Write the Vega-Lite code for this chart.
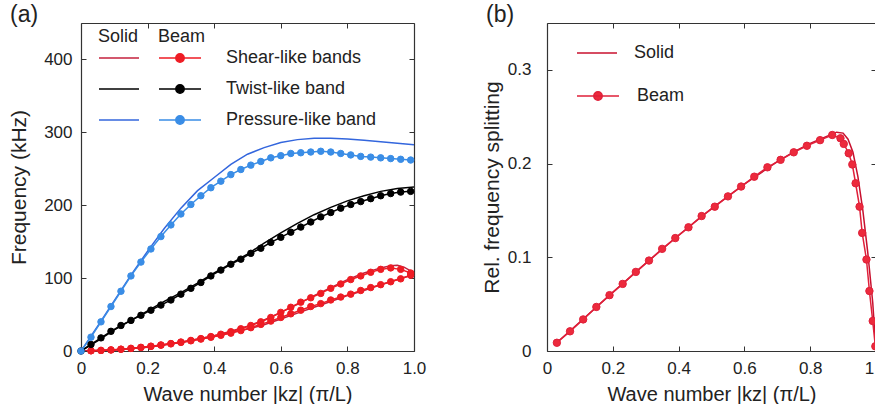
{
  "$schema": "https://vega.github.io/schema/vega-lite/v6.json",
  "autosize": {"type": "pad"},
  "padding": {"left": 8, "top": 3, "right": 0, "bottom": 0},
  "background": "white",
  "config": {
    "font": "Liberation Sans",
    "view": {"stroke": null},
    "axis": {"domainColor": "#333", "domainWidth": 1.2, "tickColor": "#333", "tickWidth": 1, "tickSize": -5, "labelFontSize": 17, "labelColor": "#222", "titleFontSize": 20, "titleFontWeight": "normal", "titleColor": "#222", "grid": false, "labelFlush": false, "labelOverlap": false},
    "legend": {"padding": 0, "labelFontSize": 18, "titleFontSize": 18, "titleFontWeight": "normal", "labelColor": "#222", "titleColor": "#222", "clipHeight": 16, "rowPadding": 13, "symbolStrokeWidth": 1.5, "titlePadding": 4},
    "title": {"fontSize": 23, "fontWeight": "normal", "anchor": "start", "frame": "group", "color": "#222"}
  },
  "datasets": {
    "aSolid": [
      {"k":0,"f":0,"band":"Shear-like bands","br":"s1"},{"k":0.1,"f":1.5,"band":"Shear-like bands","br":"s1"},{"k":0.2,"f":5.5,"band":"Shear-like bands","br":"s1"},{"k":0.3,"f":12,"band":"Shear-like bands","br":"s1"},{"k":0.4,"f":21,"band":"Shear-like bands","br":"s1"},{"k":0.45,"f":27,"band":"Shear-like bands","br":"s1"},{"k":0.5,"f":34,"band":"Shear-like bands","br":"s1"},{"k":0.55,"f":42.5,"band":"Shear-like bands","br":"s1"},{"k":0.6,"f":53,"band":"Shear-like bands","br":"s1"},{"k":0.65,"f":64,"band":"Shear-like bands","br":"s1"},{"k":0.7,"f":76,"band":"Shear-like bands","br":"s1"},{"k":0.75,"f":87,"band":"Shear-like bands","br":"s1"},{"k":0.8,"f":98,"band":"Shear-like bands","br":"s1"},{"k":0.85,"f":107,"band":"Shear-like bands","br":"s1"},{"k":0.9,"f":114,"band":"Shear-like bands","br":"s1"},{"k":0.93,"f":117,"band":"Shear-like bands","br":"s1"},{"k":0.95,"f":117.5,"band":"Shear-like bands","br":"s1"},{"k":0.97,"f":115,"band":"Shear-like bands","br":"s1"},{"k":0.99,"f":110,"band":"Shear-like bands","br":"s1"},{"k":1.0,"f":108,"band":"Shear-like bands","br":"s1"},
      {"k":0,"f":0,"band":"Shear-like bands","br":"s2"},{"k":0.1,"f":1.4,"band":"Shear-like bands","br":"s2"},{"k":0.2,"f":5.2,"band":"Shear-like bands","br":"s2"},{"k":0.3,"f":11.5,"band":"Shear-like bands","br":"s2"},{"k":0.4,"f":20,"band":"Shear-like bands","br":"s2"},{"k":0.45,"f":25,"band":"Shear-like bands","br":"s2"},{"k":0.5,"f":30,"band":"Shear-like bands","br":"s2"},{"k":0.55,"f":36,"band":"Shear-like bands","br":"s2"},{"k":0.6,"f":44,"band":"Shear-like bands","br":"s2"},{"k":0.65,"f":52,"band":"Shear-like bands","br":"s2"},{"k":0.7,"f":60,"band":"Shear-like bands","br":"s2"},{"k":0.75,"f":68,"band":"Shear-like bands","br":"s2"},{"k":0.8,"f":76,"band":"Shear-like bands","br":"s2"},{"k":0.85,"f":83,"band":"Shear-like bands","br":"s2"},{"k":0.9,"f":91,"band":"Shear-like bands","br":"s2"},{"k":0.95,"f":98,"band":"Shear-like bands","br":"s2"},{"k":1.0,"f":105,"band":"Shear-like bands","br":"s2"},
      {"k":0,"f":0,"band":"Twist-like band","br":"t"},{"k":0.05,"f":14,"band":"Twist-like band","br":"t"},{"k":0.1,"f":29,"band":"Twist-like band","br":"t"},{"k":0.15,"f":42,"band":"Twist-like band","br":"t"},{"k":0.2,"f":55,"band":"Twist-like band","br":"t"},{"k":0.25,"f":68,"band":"Twist-like band","br":"t"},{"k":0.3,"f":80,"band":"Twist-like band","br":"t"},{"k":0.35,"f":93,"band":"Twist-like band","br":"t"},{"k":0.4,"f":107,"band":"Twist-like band","br":"t"},{"k":0.45,"f":120,"band":"Twist-like band","br":"t"},{"k":0.5,"f":133,"band":"Twist-like band","br":"t"},{"k":0.55,"f":148,"band":"Twist-like band","br":"t"},{"k":0.6,"f":162,"band":"Twist-like band","br":"t"},{"k":0.65,"f":175,"band":"Twist-like band","br":"t"},{"k":0.7,"f":187,"band":"Twist-like band","br":"t"},{"k":0.75,"f":197,"band":"Twist-like band","br":"t"},{"k":0.8,"f":206,"band":"Twist-like band","br":"t"},{"k":0.85,"f":213,"band":"Twist-like band","br":"t"},{"k":0.9,"f":219,"band":"Twist-like band","br":"t"},{"k":0.95,"f":223,"band":"Twist-like band","br":"t"},{"k":1.0,"f":225,"band":"Twist-like band","br":"t"},
      {"k":0,"f":0,"band":"Pressure-like band","br":"p"},{"k":0.05,"f":34,"band":"Pressure-like band","br":"p"},{"k":0.1,"f":69,"band":"Pressure-like band","br":"p"},{"k":0.15,"f":104,"band":"Pressure-like band","br":"p"},{"k":0.2,"f":137,"band":"Pressure-like band","br":"p"},{"k":0.25,"f":168,"band":"Pressure-like band","br":"p"},{"k":0.3,"f":196,"band":"Pressure-like band","br":"p"},{"k":0.35,"f":220,"band":"Pressure-like band","br":"p"},{"k":0.4,"f":238,"band":"Pressure-like band","br":"p"},{"k":0.45,"f":256,"band":"Pressure-like band","br":"p"},{"k":0.5,"f":270,"band":"Pressure-like band","br":"p"},{"k":0.55,"f":279,"band":"Pressure-like band","br":"p"},{"k":0.6,"f":286,"band":"Pressure-like band","br":"p"},{"k":0.65,"f":290,"band":"Pressure-like band","br":"p"},{"k":0.7,"f":292,"band":"Pressure-like band","br":"p"},{"k":0.75,"f":292,"band":"Pressure-like band","br":"p"},{"k":0.8,"f":291,"band":"Pressure-like band","br":"p"},{"k":0.85,"f":289,"band":"Pressure-like band","br":"p"},{"k":0.9,"f":287,"band":"Pressure-like band","br":"p"},{"k":0.95,"f":285,"band":"Pressure-like band","br":"p"},{"k":1.0,"f":283,"band":"Pressure-like band","br":"p"}
    ],
    "aBeam": [
      {"k":0.03,"f":0.3,"band":"Shear-like bands","br":"s1"},{"k":0.06,"f":0.8,"band":"Shear-like bands","br":"s1"},{"k":0.09,"f":1.5,"band":"Shear-like bands","br":"s1"},{"k":0.12,"f":2.5,"band":"Shear-like bands","br":"s1"},{"k":0.15,"f":3.6,"band":"Shear-like bands","br":"s1"},{"k":0.18,"f":5,"band":"Shear-like bands","br":"s1"},{"k":0.21,"f":6.6,"band":"Shear-like bands","br":"s1"},{"k":0.24,"f":8.3,"band":"Shear-like bands","br":"s1"},{"k":0.27,"f":10.2,"band":"Shear-like bands","br":"s1"},{"k":0.3,"f":12.3,"band":"Shear-like bands","br":"s1"},{"k":0.33,"f":14.5,"band":"Shear-like bands","br":"s1"},{"k":0.36,"f":17,"band":"Shear-like bands","br":"s1"},{"k":0.39,"f":19.8,"band":"Shear-like bands","br":"s1"},{"k":0.42,"f":23,"band":"Shear-like bands","br":"s1"},{"k":0.45,"f":26.5,"band":"Shear-like bands","br":"s1"},{"k":0.48,"f":30.5,"band":"Shear-like bands","br":"s1"},{"k":0.51,"f":35,"band":"Shear-like bands","br":"s1"},{"k":0.54,"f":40,"band":"Shear-like bands","br":"s1"},{"k":0.57,"f":46,"band":"Shear-like bands","br":"s1"},{"k":0.6,"f":53,"band":"Shear-like bands","br":"s1"},{"k":0.63,"f":60,"band":"Shear-like bands","br":"s1"},{"k":0.66,"f":67,"band":"Shear-like bands","br":"s1"},{"k":0.69,"f":73,"band":"Shear-like bands","br":"s1"},{"k":0.72,"f":79,"band":"Shear-like bands","br":"s1"},{"k":0.75,"f":86,"band":"Shear-like bands","br":"s1"},{"k":0.78,"f":92,"band":"Shear-like bands","br":"s1"},{"k":0.81,"f":98,"band":"Shear-like bands","br":"s1"},{"k":0.84,"f":103,"band":"Shear-like bands","br":"s1"},{"k":0.87,"f":108,"band":"Shear-like bands","br":"s1"},{"k":0.9,"f":112,"band":"Shear-like bands","br":"s1"},{"k":0.93,"f":114,"band":"Shear-like bands","br":"s1"},{"k":0.96,"f":112,"band":"Shear-like bands","br":"s1"},{"k":0.99,"f":107,"band":"Shear-like bands","br":"s1"},
      {"k":0.03,"f":0.3,"band":"Shear-like bands","br":"s2"},{"k":0.06,"f":0.8,"band":"Shear-like bands","br":"s2"},{"k":0.09,"f":1.5,"band":"Shear-like bands","br":"s2"},{"k":0.12,"f":2.4,"band":"Shear-like bands","br":"s2"},{"k":0.15,"f":3.5,"band":"Shear-like bands","br":"s2"},{"k":0.18,"f":4.8,"band":"Shear-like bands","br":"s2"},{"k":0.21,"f":6.3,"band":"Shear-like bands","br":"s2"},{"k":0.24,"f":8,"band":"Shear-like bands","br":"s2"},{"k":0.27,"f":9.8,"band":"Shear-like bands","br":"s2"},{"k":0.3,"f":11.8,"band":"Shear-like bands","br":"s2"},{"k":0.33,"f":14,"band":"Shear-like bands","br":"s2"},{"k":0.36,"f":16.3,"band":"Shear-like bands","br":"s2"},{"k":0.39,"f":18.8,"band":"Shear-like bands","br":"s2"},{"k":0.42,"f":21.5,"band":"Shear-like bands","br":"s2"},{"k":0.45,"f":24.5,"band":"Shear-like bands","br":"s2"},{"k":0.48,"f":28,"band":"Shear-like bands","br":"s2"},{"k":0.51,"f":32,"band":"Shear-like bands","br":"s2"},{"k":0.54,"f":36.5,"band":"Shear-like bands","br":"s2"},{"k":0.57,"f":41,"band":"Shear-like bands","br":"s2"},{"k":0.6,"f":46,"band":"Shear-like bands","br":"s2"},{"k":0.63,"f":51,"band":"Shear-like bands","br":"s2"},{"k":0.66,"f":56,"band":"Shear-like bands","br":"s2"},{"k":0.69,"f":61,"band":"Shear-like bands","br":"s2"},{"k":0.72,"f":65,"band":"Shear-like bands","br":"s2"},{"k":0.75,"f":70,"band":"Shear-like bands","br":"s2"},{"k":0.78,"f":74,"band":"Shear-like bands","br":"s2"},{"k":0.81,"f":78,"band":"Shear-like bands","br":"s2"},{"k":0.84,"f":83,"band":"Shear-like bands","br":"s2"},{"k":0.87,"f":87,"band":"Shear-like bands","br":"s2"},{"k":0.9,"f":91,"band":"Shear-like bands","br":"s2"},{"k":0.93,"f":95,"band":"Shear-like bands","br":"s2"},{"k":0.96,"f":99,"band":"Shear-like bands","br":"s2"},{"k":0.99,"f":104,"band":"Shear-like bands","br":"s2"},
      {"k":0,"f":0,"band":"Twist-like band","br":"t"},{"k":0.03,"f":9,"band":"Twist-like band","br":"t"},{"k":0.06,"f":18,"band":"Twist-like band","br":"t"},{"k":0.09,"f":27,"band":"Twist-like band","br":"t"},{"k":0.12,"f":35,"band":"Twist-like band","br":"t"},{"k":0.15,"f":42,"band":"Twist-like band","br":"t"},{"k":0.18,"f":49,"band":"Twist-like band","br":"t"},{"k":0.21,"f":56,"band":"Twist-like band","br":"t"},{"k":0.24,"f":63,"band":"Twist-like band","br":"t"},{"k":0.27,"f":70,"band":"Twist-like band","br":"t"},{"k":0.3,"f":78,"band":"Twist-like band","br":"t"},{"k":0.33,"f":86,"band":"Twist-like band","br":"t"},{"k":0.36,"f":94,"band":"Twist-like band","br":"t"},{"k":0.39,"f":103,"band":"Twist-like band","br":"t"},{"k":0.42,"f":111,"band":"Twist-like band","br":"t"},{"k":0.45,"f":119,"band":"Twist-like band","br":"t"},{"k":0.48,"f":126,"band":"Twist-like band","br":"t"},{"k":0.51,"f":134,"band":"Twist-like band","br":"t"},{"k":0.54,"f":141,"band":"Twist-like band","br":"t"},{"k":0.57,"f":149,"band":"Twist-like band","br":"t"},{"k":0.6,"f":156,"band":"Twist-like band","br":"t"},{"k":0.63,"f":163,"band":"Twist-like band","br":"t"},{"k":0.66,"f":170,"band":"Twist-like band","br":"t"},{"k":0.69,"f":177,"band":"Twist-like band","br":"t"},{"k":0.72,"f":184,"band":"Twist-like band","br":"t"},{"k":0.75,"f":190,"band":"Twist-like band","br":"t"},{"k":0.78,"f":196,"band":"Twist-like band","br":"t"},{"k":0.81,"f":201,"band":"Twist-like band","br":"t"},{"k":0.84,"f":205,"band":"Twist-like band","br":"t"},{"k":0.87,"f":209,"band":"Twist-like band","br":"t"},{"k":0.9,"f":213,"band":"Twist-like band","br":"t"},{"k":0.93,"f":216,"band":"Twist-like band","br":"t"},{"k":0.96,"f":218,"band":"Twist-like band","br":"t"},{"k":0.99,"f":219,"band":"Twist-like band","br":"t"},
      {"k":0,"f":0,"band":"Pressure-like band","br":"p"},{"k":0.03,"f":19,"band":"Pressure-like band","br":"p"},{"k":0.06,"f":40,"band":"Pressure-like band","br":"p"},{"k":0.09,"f":61,"band":"Pressure-like band","br":"p"},{"k":0.12,"f":82,"band":"Pressure-like band","br":"p"},{"k":0.15,"f":103,"band":"Pressure-like band","br":"p"},{"k":0.18,"f":122,"band":"Pressure-like band","br":"p"},{"k":0.21,"f":140,"band":"Pressure-like band","br":"p"},{"k":0.24,"f":157,"band":"Pressure-like band","br":"p"},{"k":0.27,"f":173,"band":"Pressure-like band","br":"p"},{"k":0.3,"f":188,"band":"Pressure-like band","br":"p"},{"k":0.33,"f":201,"band":"Pressure-like band","br":"p"},{"k":0.36,"f":213,"band":"Pressure-like band","br":"p"},{"k":0.39,"f":224,"band":"Pressure-like band","br":"p"},{"k":0.42,"f":233,"band":"Pressure-like band","br":"p"},{"k":0.45,"f":242,"band":"Pressure-like band","br":"p"},{"k":0.48,"f":249,"band":"Pressure-like band","br":"p"},{"k":0.51,"f":255,"band":"Pressure-like band","br":"p"},{"k":0.54,"f":260,"band":"Pressure-like band","br":"p"},{"k":0.57,"f":265,"band":"Pressure-like band","br":"p"},{"k":0.6,"f":268,"band":"Pressure-like band","br":"p"},{"k":0.63,"f":271,"band":"Pressure-like band","br":"p"},{"k":0.66,"f":272,"band":"Pressure-like band","br":"p"},{"k":0.69,"f":273,"band":"Pressure-like band","br":"p"},{"k":0.72,"f":274,"band":"Pressure-like band","br":"p"},{"k":0.75,"f":273,"band":"Pressure-like band","br":"p"},{"k":0.78,"f":271,"band":"Pressure-like band","br":"p"},{"k":0.81,"f":269,"band":"Pressure-like band","br":"p"},{"k":0.84,"f":267,"band":"Pressure-like band","br":"p"},{"k":0.87,"f":266,"band":"Pressure-like band","br":"p"},{"k":0.9,"f":265,"band":"Pressure-like band","br":"p"},{"k":0.93,"f":264,"band":"Pressure-like band","br":"p"},{"k":0.96,"f":263,"band":"Pressure-like band","br":"p"},{"k":0.99,"f":262,"band":"Pressure-like band","br":"p"}
    ],
    "bSolid": [
      {"k":0.03,"s":0.009,"type":"Solid"},{"k":0.1,"s":0.031,"type":"Solid"},{"k":0.2,"s":0.0625,"type":"Solid"},{"k":0.3,"s":0.0935,"type":"Solid"},{"k":0.4,"s":0.1235,"type":"Solid"},{"k":0.5,"s":0.152,"type":"Solid"},{"k":0.6,"s":0.178,"type":"Solid"},{"k":0.7,"s":0.202,"type":"Solid"},{"k":0.75,"s":0.2125,"type":"Solid"},{"k":0.8,"s":0.2215,"type":"Solid"},{"k":0.85,"s":0.229,"type":"Solid"},{"k":0.88,"s":0.2335,"type":"Solid"},{"k":0.9,"s":0.2325,"type":"Solid"},{"k":0.915,"s":0.226,"type":"Solid"},{"k":0.93,"s":0.212,"type":"Solid"},{"k":0.945,"s":0.186,"type":"Solid"},{"k":0.96,"s":0.15,"type":"Solid"},{"k":0.975,"s":0.105,"type":"Solid"},{"k":0.99,"s":0.052,"type":"Solid"},{"k":1.0,"s":0,"type":"Solid"}
    ],
    "bBeam": [
      {"k":0.03,"s":0.0088,"type":"Beam"},{"k":0.07,"s":0.021,"type":"Beam"},{"k":0.11,"s":0.0337,"type":"Beam"},{"k":0.15,"s":0.047,"type":"Beam"},{"k":0.19,"s":0.0596,"type":"Beam"},{"k":0.23,"s":0.0716,"type":"Beam"},{"k":0.27,"s":0.0844,"type":"Beam"},{"k":0.31,"s":0.0965,"type":"Beam"},{"k":0.35,"s":0.109,"type":"Beam"},{"k":0.39,"s":0.1205,"type":"Beam"},{"k":0.43,"s":0.132,"type":"Beam"},{"k":0.47,"s":0.144,"type":"Beam"},{"k":0.51,"s":0.154,"type":"Beam"},{"k":0.55,"s":0.165,"type":"Beam"},{"k":0.59,"s":0.1755,"type":"Beam"},{"k":0.63,"s":0.186,"type":"Beam"},{"k":0.67,"s":0.196,"type":"Beam"},{"k":0.71,"s":0.204,"type":"Beam"},{"k":0.75,"s":0.212,"type":"Beam"},{"k":0.79,"s":0.219,"type":"Beam"},{"k":0.83,"s":0.225,"type":"Beam"},{"k":0.867,"s":0.2305,"type":"Beam"},{"k":0.892,"s":0.227,"type":"Beam"},{"k":0.902,"s":0.221,"type":"Beam"},{"k":0.917,"s":0.211,"type":"Beam"},{"k":0.928,"s":0.199,"type":"Beam"},{"k":0.938,"s":0.179,"type":"Beam"},{"k":0.95,"s":0.154,"type":"Beam"},{"k":0.958,"s":0.126,"type":"Beam"},{"k":0.971,"s":0.0976,"type":"Beam"},{"k":0.98,"s":0.064,"type":"Beam"},{"k":0.99,"s":0.032,"type":"Beam"},{"k":0.998,"s":0.005,"type":"Beam"}
    ]
  },
  "hconcat": [
    {
      "width": 333,
      "height": 328,
      "title": {"text": "(a)", "dx": -71, "baseline": "alphabetic", "offset": 0, "dy": 22},
      "layer": [
        {
          "data": {"name": "aSolid"},
          "mark": {"type": "line", "strokeWidth": 1.5, "clip": true},
          "encoding": {
            "x": {"field": "k", "type": "quantitative", "scale": {"domain": [0, 1], "nice": false}, "axis": {"orient": "bottom", "values": [0, 0.2, 0.4, 0.6, 0.8, 1], "labelExpr": "datum.value === 0 ? '0' : format(datum.value, '.1f')", "title": "Wave number |kz| (π/L)", "labelPadding": 14, "titlePadding": 8}},
            "y": {"field": "f", "type": "quantitative", "scale": {"domain": [0, 450], "nice": false}, "axis": {"orient": "left", "values": [0, 100, 200, 300, 400], "title": "Frequency (kHz)", "titleFontSize": 21, "labelPadding": 14, "titlePadding": 14}},
            "detail": {"field": "br"},
            "color": {"field": "band", "type": "nominal", "scale": {"domain": ["Shear-like bands", "Twist-like band", "Pressure-like band"], "range": ["#c4203c", "#000000", "#3366dd"]}, "legend": {"orient": "none", "legendX": 17, "legendY": 5, "title": "Solid", "labelExpr": "''", "symbolType": "stroke", "symbolSize": 1600}}
          }
        },
        {
          "data": {"name": "aBeam"},
          "encoding": {
            "x": {"field": "k", "type": "quantitative", "scale": {"domain": [0, 1], "nice": false}, "axis": {"orient": "top", "values": [0, 0.2, 0.4, 0.6, 0.8, 1], "labels": false, "title": null}},
            "y": {"field": "f", "type": "quantitative", "scale": {"domain": [0, 450], "nice": false}, "axis": {"orient": "right", "values": [0, 100, 200, 300, 400], "labels": false, "title": null}}
          },
          "layer": [
            {
              "mark": {"type": "line", "strokeWidth": 1.5},
              "encoding": {
                "detail": {"field": "br"},
                "stroke": {"field": "band", "type": "nominal", "scale": {"domain": ["Shear-like bands", "Twist-like band", "Pressure-like band"], "range": ["#ee1c24", "#000000", "#3a8de6"]}, "legend": {"orient": "none", "legendX": 77, "legendY": 5, "title": "Beam", "labelOffset": 24, "symbolType": "M-1,0H1M-0.2,0A0.2,0.2 0 1 1 0.2,0A0.2,0.2 0 1 1 -0.2,0Z", "symbolSize": 1764}}
              }
            },
            {
              "mark": {"type": "point", "filled": true, "size": 42, "opacity": 1, "strokeWidth": 1},
              "encoding": {
                "fill": {"field": "band", "type": "nominal", "scale": {"domain": ["Shear-like bands", "Twist-like band", "Pressure-like band"], "range": ["#ee1c24", "#000000", "#3a8de6"]}, "legend": {"orient": "none", "legendX": 77, "legendY": 5, "title": "Beam", "labelOffset": 24, "symbolType": "M-1,0H1M-0.2,0A0.2,0.2 0 1 1 0.2,0A0.2,0.2 0 1 1 -0.2,0Z", "symbolSize": 1764}},
                "stroke": {"field": "band", "type": "nominal", "scale": {"domain": ["Shear-like bands", "Twist-like band", "Pressure-like band"], "range": ["#ee1c24", "#000000", "#3a8de6"]}, "legend": {"orient": "none", "legendX": 77, "legendY": 5, "title": "Beam", "labelOffset": 24, "symbolType": "M-1,0H1M-0.2,0A0.2,0.2 0 1 1 0.2,0A0.2,0.2 0 1 1 -0.2,0Z", "symbolSize": 1764}}
              }
            }
          ]
        }
      ],
      "resolve": {"scale": {"color": "independent"}, "axis": {"x": "independent", "y": "independent"}}
    },
    {
      "width": 329,
      "height": 328,
      "title": {"text": "(b)", "dx": -61, "baseline": "alphabetic", "offset": 0, "dy": 22},
      "layer": [
        {
          "data": {"name": "bSolid"},
          "mark": {"type": "line", "strokeWidth": 1.5, "clip": true},
          "encoding": {
            "x": {"field": "k", "type": "quantitative", "scale": {"domain": [0, 1], "nice": false}, "axis": {"orient": "bottom", "values": [0, 0.2, 0.4, 0.6, 0.8, 1], "labelExpr": "datum.value === 0 ? '0' : format(datum.value, '.1f')", "title": "Wave number |kz| (π/L)", "labelPadding": 14, "titlePadding": 8}},
            "y": {"field": "s", "type": "quantitative", "scale": {"domain": [0, 0.35], "nice": false}, "axis": {"orient": "left", "values": [0, 0.1, 0.2, 0.3], "labelExpr": "datum.value === 0 ? '0' : format(datum.value, '.1f')", "title": "Rel. frequency splitting", "titleFontSize": 21, "labelPadding": 21, "titlePadding": 5}},
            "color": {"field": "type", "type": "nominal", "scale": {"domain": ["Solid"], "range": ["#c8102e"]}, "legend": {"orient": "none", "legendX": 29, "legendY": 22, "title": null, "labelOffset": 16, "symbolType": "stroke", "symbolSize": 1600}}
          }
        },
        {
          "data": {"name": "bBeam"},
          "encoding": {
            "x": {"field": "k", "type": "quantitative", "scale": {"domain": [0, 1], "nice": false}, "axis": {"orient": "top", "values": [0, 0.2, 0.4, 0.6, 0.8, 1], "labels": false, "title": null}},
            "y": {"field": "s", "type": "quantitative", "scale": {"domain": [0, 0.35], "nice": false}, "axis": {"orient": "right", "values": [0, 0.1, 0.2, 0.3], "labels": false, "title": null}}
          },
          "layer": [
            {
              "mark": {"type": "line", "strokeWidth": 1.5},
              "encoding": {
                "stroke": {"field": "type", "type": "nominal", "scale": {"domain": ["Beam"], "range": ["#e0203a"]}, "legend": {"orient": "none", "legendX": 29, "legendY": 65, "title": null, "labelOffset": 17, "symbolType": "M-1,0H1M-0.2,0A0.2,0.2 0 1 1 0.2,0A0.2,0.2 0 1 1 -0.2,0Z", "symbolSize": 1764}}
              }
            },
            {
              "mark": {"type": "point", "filled": true, "size": 55, "opacity": 1, "strokeWidth": 1},
              "encoding": {
                "fill": {"field": "type", "type": "nominal", "scale": {"domain": ["Beam"], "range": ["#ec2a3c"]}, "legend": {"orient": "none", "legendX": 29, "legendY": 65, "title": null, "labelOffset": 17, "symbolType": "M-1,0H1M-0.2,0A0.2,0.2 0 1 1 0.2,0A0.2,0.2 0 1 1 -0.2,0Z", "symbolSize": 1764}},
                "stroke": {"field": "type", "type": "nominal", "scale": {"domain": ["Beam"], "range": ["#e0203a"]}, "legend": {"orient": "none", "legendX": 29, "legendY": 65, "title": null, "labelOffset": 17, "symbolType": "M-1,0H1M-0.2,0A0.2,0.2 0 1 1 0.2,0A0.2,0.2 0 1 1 -0.2,0Z", "symbolSize": 1764}}
              }
            }
          ]
        }
      ],
      "resolve": {"scale": {"color": "independent"}, "axis": {"x": "independent", "y": "independent"}}
    }
  ],
  "spacing": 133,
  "bounds": "flush",
  "resolve": {"scale": {"color": "independent", "fill": "independent", "stroke": "independent"}}
}
